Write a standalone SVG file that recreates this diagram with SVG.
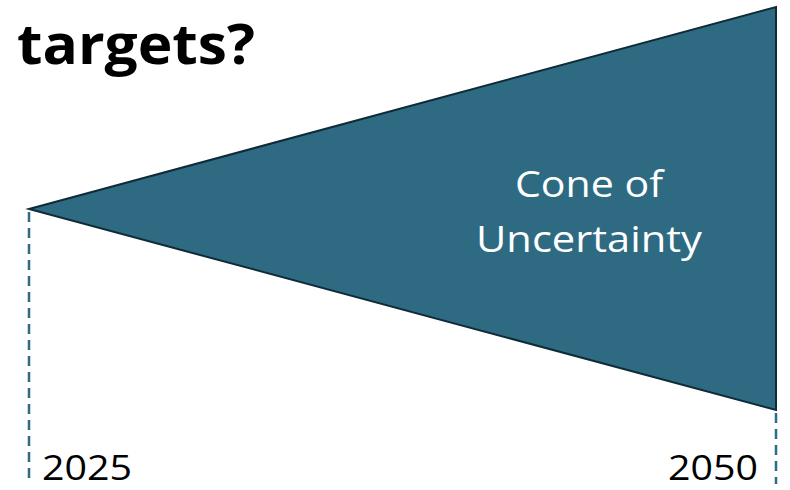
<svg xmlns="http://www.w3.org/2000/svg" width="790" height="490" viewBox="0 0 790 490">
<style>
.t{font-family:"Open Sans","Liberation Sans",sans-serif}
.dash{stroke:#2E6B82;stroke-width:2.5;stroke-dasharray:10 6;fill:none}
</style>
<rect width="790" height="490" fill="#fff"/>
<text class="t" x="17" y="64" font-size="56" font-weight="bold" fill="#000" textLength="238" lengthAdjust="spacingAndGlyphs">targets?</text>
<g id="connectors">
<line class="dash" x1="29" y1="212" x2="29" y2="484"/>
<line class="dash" x1="776" y1="413" x2="776" y2="484"/>
</g>
<g id="cone">
<polygon points="29,209 776,7 776,410" fill="#2E6B82" stroke="#0F2B38" stroke-width="2" stroke-linejoin="miter"/>
<text class="t" x="589" y="197" font-size="36" fill="#fff" text-anchor="middle" textLength="148" lengthAdjust="spacingAndGlyphs">Cone of</text>
<text class="t" x="589" y="252" font-size="36" fill="#fff" text-anchor="middle" textLength="226" lengthAdjust="spacingAndGlyphs">Uncertainty</text>
</g>
<g id="label2025"><text class="t" x="42" y="480" font-size="35" fill="#000" textLength="90" lengthAdjust="spacingAndGlyphs">2025</text></g>
<g id="label2050"><text class="t" x="668" y="480" font-size="35" fill="#000" textLength="90" lengthAdjust="spacingAndGlyphs">2050</text></g>
</svg>
